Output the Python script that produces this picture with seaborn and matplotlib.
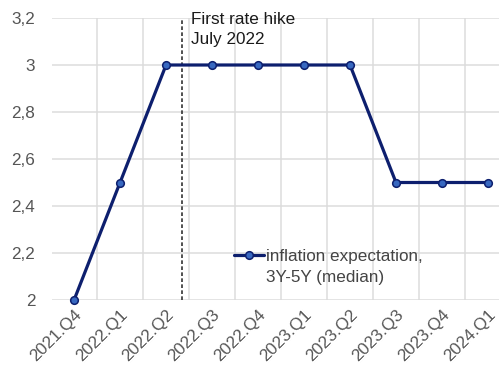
import matplotlib
matplotlib.use("Agg")
import matplotlib.pyplot as plt
import seaborn as sns
import pandas as pd
import numpy as np
from matplotlib.lines import Line2D
from matplotlib.ticker import FixedLocator, FuncFormatter

quarters = ["2021.Q4", "2022.Q1", "2022.Q2", "2022.Q3", "2022.Q4",
            "2023.Q1", "2023.Q2", "2023.Q3", "2023.Q4", "2024.Q1"]
expectation = [2.0, 2.5, 3.0, 3.0, 3.0, 3.0, 3.0, 2.5, 2.5, 2.5]
series_label = ["inflation expectation,", "3Y-5Y (median)"]
hike_position = 2.35
hike_text = "First rate hike\nJuly 2022"
y_ticks = [2.0, 2.2, 2.4, 2.6, 2.8, 3.0, 3.2]

sns.set_theme(style="white")
plt.rcParams["font.family"] = ["Liberation Sans", "DejaVu Sans"]

df = pd.DataFrame({"idx": np.arange(len(quarters)), "value": expectation})

fig = plt.figure(figsize=(4.99, 3.69), dpi=100)
ax = fig.add_axes([52 / 499, 1 - 300 / 369, 1 - 52 / 499, (300 - 18) / 369])

navy = "#0d1f6e"
face = "#3868c0"
sns.lineplot(data=df, x="idx", y="value", ax=ax, sort=False, color=navy,
             linewidth=2.3, marker="o", markersize=5.5,
             markerfacecolor=face, markeredgecolor=navy,
             markeredgewidth=1.1, clip_on=False, zorder=5)

ax.set_xlim(-0.48, 9.24)
ax.set_ylim(2.0, 3.2)

# category labels on major ticks, grid lines between categories
ax.xaxis.set_major_locator(FixedLocator(list(range(len(quarters)))))
ax.set_xticklabels(quarters, rotation=45, ha="right", rotation_mode="anchor")
ax.xaxis.set_minor_locator(FixedLocator([i + 0.5 for i in range(-1, len(quarters))]))
ax.set_yticks(y_ticks)
ax.yaxis.set_major_formatter(FuncFormatter(
    lambda v, p: (f"{v:.1f}".rstrip("0").rstrip(".")).replace(".", ",")))

ax.grid(False)
ax.grid(True, which="major", axis="y", color="#dcdcdc", linewidth=1.1)
ax.grid(True, which="minor", axis="x", color="#dcdcdc", linewidth=1.1)
ax.set_axisbelow(True)
for s in ax.spines.values():
    s.set_visible(False)

fs = 12.3
ax.tick_params(axis="both", which="both", length=0, labelsize=fs,
               labelcolor="#555555")
ax.tick_params(axis="x", pad=5)
ax.tick_params(axis="y", pad=12)
ax.set_xlabel("")
ax.set_ylabel("")

ax.axvline(hike_position, color="#333333", linestyle=(0, (2.2, 1.4)),
           linewidth=1.2, zorder=3)
ax.text(hike_position + 0.19, 1.02, hike_text, transform=ax.get_xaxis_transform(),
        ha="left", va="top", fontsize=fs, color="#1a1a1a", linespacing=1.38)

# legend: the marker sits beside the first line of the two-line label
handles = [
    Line2D([], [], color=navy, linewidth=2.3, marker="o", markersize=5.5,
           markerfacecolor=face, markeredgecolor=navy, markeredgewidth=1.1),
    Line2D([], [], linestyle="none"),
]
leg = ax.legend(handles, series_label, loc="upper left",
                bbox_to_anchor=(0.408, 0.18), frameon=False,
                fontsize=fs, handlelength=1.75, handletextpad=0.1,
                borderaxespad=0, borderpad=0, labelspacing=0.32)
for t in leg.get_texts():
    t.set_color("#444444")

fig.savefig("out.png", dpi=100)
